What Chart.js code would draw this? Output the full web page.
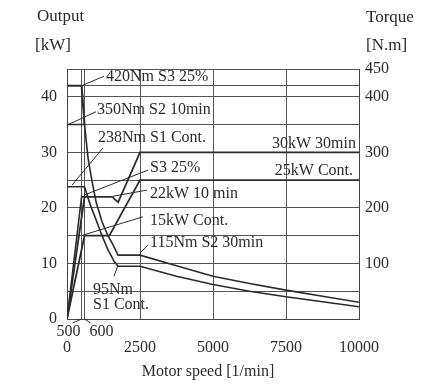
<!DOCTYPE html>
<html>
<head>
<meta charset="utf-8">
<script src="https://cdn.jsdelivr.net/npm/chart.js@4/dist/chart.umd.min.js"></script>
<style>
    body { margin: 0; background: #fff; }
    #box { width: 430px; height: 385px; }
</style>
</head>
<body>
<div id="box"><canvas id="chart" width="430" height="385"></canvas></div>
<script>
// output curves, kW over motor speed
const s3PowerSpeed = [0, 500, 600];
const s3PowerKw = [0, 22, 22];
const s2PowerSpeed = [0, 600, 1550, 1750, 2500, 10000];
const s2PowerKw = [0, 22, 22, 21, 30, 30];
const s1PowerSpeed = [0, 600, 1450, 2500, 10000];
const s1PowerKw = [0, 15, 15, 25, 25];

// torque curves, Nm over motor speed
const s3TorqueSpeed = [0, 500, 600];
const s3TorqueNm = [420, 420, 350];
const s2TorqueSpeed = [0, 600, 720, 850, 1000, 1200, 1400, 1550, 1750, 2500, 3750, 5000, 6250, 7500, 8750, 10000];
const s2TorqueNm = [350, 350, 290, 250, 210, 175, 150, 136, 115, 115, 96, 77, 64, 52, 41, 30];
const s1TorqueSpeed = [0, 600, 800, 1000, 1200, 1400, 1600, 1750, 2500, 3750, 5000, 6250, 7500, 8750, 10000];
const s1TorqueNm = [238, 238, 205, 178, 150, 125, 105, 95, 95, 77, 62, 50, 40, 31, 22];

// axis ticks
const speedTicks = [0, 500, 600, 2500, 5000, 7500, 10000];
const speedLabels = [0, 2500, 5000, 7500, 10000];
const outputTicks = [0, 5, 10, 15, 20, 25, 30, 35, 40, 42, 45];
const outputLabels = [0, 10, 20, 30, 40];
const torqueLabels = [100, 200, 300, 400, 450];

// callouts: text, anchor [rpm, kW], leader from/to [rpm, kW]
const callouts = [
    {text: "420Nm S3 25%", at: [1336, 43.6], from: [548, 42.1], to: [1267, 43.7]},
    {text: "350Nm S2 10min", at: [1027, 37.6], from: [0, 34.9], to: [993, 37.3]},
    {text: "238Nm S1 Cont.", at: [1062, 32.6], from: [171, 24.1], to: [1233, 30.8]},
    {text: "S3 25%", at: [2842, 27.2], from: [582, 22.3], to: [2774, 26.8]},
    {text: "22kW 10 min", at: [2842, 22.5], from: [1575, 22.1], to: [2740, 23.2]},
    {text: "15kW Cont.", at: [2842, 17.6], from: [548, 15.1], to: [2603, 18.4]},
    {text: "115Nm S2 30min", at: [2842, 13.7], from: [2500, 11.9], to: [2774, 13.3]},
    {text: "95Nm", at: [890, 5.2], from: [1747, 9.7], to: [1610, 7.7]},
    {text: "S1 Cont.", at: [890, 2.5]},
    {text: "30kW 30min", at: [9897, 31.5], align: "right"},
    {text: "25kW Cont.", at: [9795, 26.6], align: "right"}
];

const ink = "#2b2b2b";
const serif = "'Liberation Serif', 'DejaVu Serif', serif";

function points(xs, ys) {
    return xs.map((x, i) => ({x: x, y: ys[i]}));
}

function curve(xs, ys, axis, width) {
    return {
        data: points(xs, ys),
        yAxisID: axis,
        borderColor: ink,
        borderWidth: width || 1.6,
        pointRadius: 0,
        tension: 0
    };
}

const annotate = {
    id: "annotate",
    afterDatasetsDraw(chart) {
        let ctx = chart.ctx;
        let sx = chart.scales.x;
        let sy = chart.scales.y;
        let area = chart.chartArea;
        ctx.save();
        ctx.strokeStyle = ink;
        ctx.fillStyle = ink;
        ctx.lineWidth = 1;
        ctx.textBaseline = "middle";

        ctx.font = "16px " + serif;
        callouts.forEach(c => {
            if (c.from) {
                ctx.beginPath();
                ctx.moveTo(sx.getPixelForValue(c.from[0]), sy.getPixelForValue(c.from[1]));
                ctx.lineTo(sx.getPixelForValue(c.to[0]), sy.getPixelForValue(c.to[1]));
                ctx.stroke();
            }
            ctx.textAlign = c.align || "left";
            ctx.fillText(c.text, sx.getPixelForValue(c.at[0]), sy.getPixelForValue(c.at[1]));
        });

        // 500 / 600 labels under the axis
        let x500 = sx.getPixelForValue(500);
        let x600 = sx.getPixelForValue(600);
        ctx.beginPath();
        ctx.moveTo(x500, area.bottom);
        ctx.lineTo(x500 - 9, area.bottom + 4);
        ctx.moveTo(x600, area.bottom);
        ctx.lineTo(x600 + 6, area.bottom + 4);
        ctx.stroke();
        ctx.textAlign = "center";
        ctx.fillText("500", x500 - 13, area.bottom + 13);
        ctx.fillText("600", x600 + 17, area.bottom + 13);

        // axis titles
        ctx.font = "17px " + serif;
        ctx.textAlign = "left";
        ctx.fillText("Output", 37, 17);
        ctx.fillText("[kW]", 35, 46);
        ctx.fillText("Torque", 366, 18);
        ctx.fillText("[N.m]", 366, 46);
        ctx.font = "16px " + serif;
        ctx.textAlign = "center";
        ctx.fillText("Motor speed [1/min]", 208, 372);
        ctx.restore();
    }
};

new Chart(document.getElementById("chart"), {
    type: "line",
    data: {
        datasets: [
            curve(s3PowerSpeed, s3PowerKw, "y"),
            curve(s2PowerSpeed, s2PowerKw, "y", 1.8),
            curve(s1PowerSpeed, s1PowerKw, "y", 1.8),
            curve(s3TorqueSpeed, s3TorqueNm, "yT", 2),
            curve(s2TorqueSpeed, s2TorqueNm, "yT"),
            curve(s1TorqueSpeed, s1TorqueNm, "yT")
        ]
    },
    options: {
        responsive: false,
        animation: false,
        devicePixelRatio: 1,
        layout: {padding: {top: 69, left: 0, right: 0, bottom: 0}},
        plugins: {legend: {display: false}, tooltip: {enabled: false}},
        scales: {
            x: {
                type: "linear",
                min: 0,
                max: 10000,
                afterBuildTicks: s => { s.ticks = speedTicks.map(v => ({value: v})); },
                afterFit: s => { s.height = 66; },
                grid: {color: "#555", lineWidth: 1, drawTicks: false},
                border: {color: "#444", width: 1},
                ticks: {
                    padding: 19,
                    color: ink,
                    font: {family: serif, size: 16},
                    maxRotation: 0,
                    autoSkip: false,
                    callback: v => speedLabels.includes(v) ? String(v) : ""
                }
            },
            y: {
                position: "left",
                min: 0,
                max: 45,
                afterBuildTicks: s => { s.ticks = outputTicks.map(v => ({value: v})); },
                afterFit: s => { s.width = 67; },
                grid: {color: "#555", lineWidth: 1, drawTicks: false},
                border: {color: "#444", width: 1},
                ticks: {
                    padding: 10,
                    color: ink,
                    font: {family: serif, size: 16},
                    autoSkip: false,
                    callback: v => outputLabels.includes(v) ? String(v) : ""
                }
            },
            yT: {
                position: "right",
                min: 0,
                max: 450,
                afterBuildTicks: s => { s.ticks = torqueLabels.map(v => ({value: v})); },
                afterFit: s => { s.width = 71; },
                grid: {display: false, drawTicks: false},
                border: {color: "#444", width: 1},
                ticks: {
                    padding: 6,
                    color: ink,
                    font: {family: serif, size: 16},
                    autoSkip: false
                }
            }
        }
    },
    plugins: [annotate]
});
</script>
</body>
</html>
